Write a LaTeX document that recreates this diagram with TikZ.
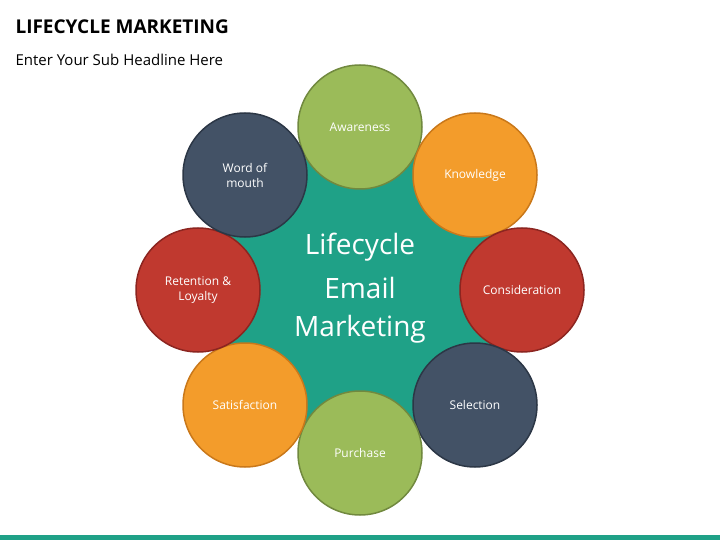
\documentclass[tikz,border=0pt]{standalone}
\usepackage{fontspec}
\setmainfont{Open Sans}
\usetikzlibrary{positioning}
\definecolor{teal1}{HTML}{1FA187}
\definecolor{grn}{HTML}{9BBB59}\definecolor{grnd}{HTML}{71893F}
\definecolor{org}{HTML}{F39C2B}\definecolor{orgd}{HTML}{C9781A}
\definecolor{rd}{HTML}{C0392F}\definecolor{rdd}{HTML}{8C2520}
\definecolor{slt}{HTML}{435266}\definecolor{sltd}{HTML}{2C3746}
\begin{document}
\begin{tikzpicture}[x=1pt,y=-1pt,
  stage/.style={circle,minimum size=124pt,line width=1.5pt,text=white,
    align=center,font=\fontsize{12}{15}\selectfont}]
  \useasboundingbox (0,0) rectangle (720,540);
  \fill[teal1] (0,535) rectangle (720,540);
  \node[anchor=west,font=\fontsize{19}{22}\selectfont\bfseries] (title) at (12,27) {LIFECYCLE MARKETING};
  \node[anchor=west,font=\fontsize{15}{18}\selectfont] (sub) at (12,60) {Enter Your Sub Headline Here};
  % central shape
  \fill[teal1] (360,290) circle (150pt);
  \node[text=white,align=center,font=\fontsize{28}{38}\selectfont] (core) at (360,288)
    {Lifecycle\\[6pt]Email\\Marketing};
  % stages
  \node[stage,fill=grn,draw=grnd] (aw) at (360,127) {Awareness};
  \node[stage,fill=org,draw=orgd] (kn) at (475,175) {Knowledge};
  \node[stage,fill=rd,draw=rdd] (co) at (522,290) {Consideration};
  \node[stage,fill=slt,draw=sltd] (se) at (475,405) {Selection};
  \node[stage,fill=grn,draw=grnd] (pu) at (360,453) {Purchase};
  \node[stage,fill=org,draw=orgd] (sa) at (245,405) {Satisfaction};
  \node[stage,fill=rd,draw=rdd] (re) at (198,290) {Retention \&\\Loyalty};
  \node[stage,fill=slt,draw=sltd] (wm) at (245,175) {Word of\\mouth};
\end{tikzpicture}
\end{document}
